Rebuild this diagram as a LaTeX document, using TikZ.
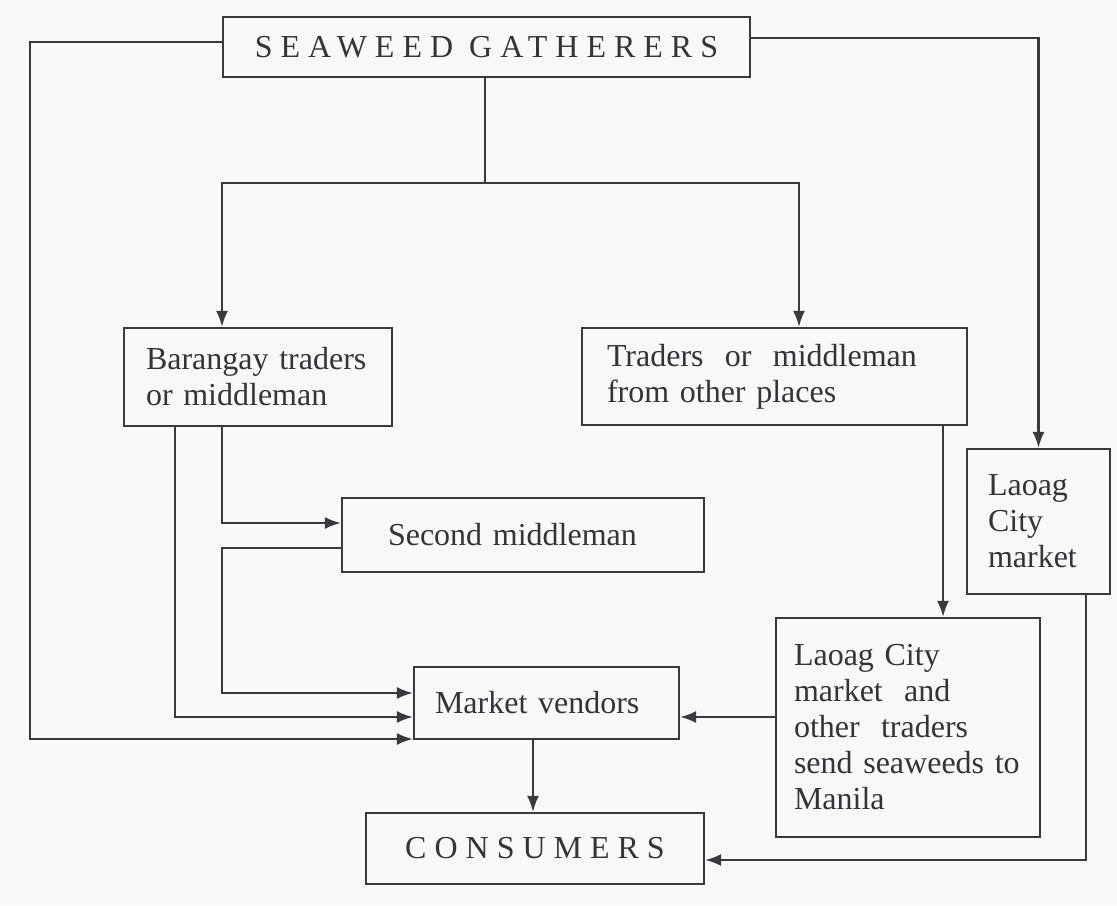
\documentclass[tikz,border=0pt]{standalone}
\usepackage{fontspec}
\setmainfont{Liberation Serif}
\newfontfamily\capsfont[LetterSpace=25]{Liberation Serif}
\usetikzlibrary{arrows.meta}
\definecolor{paper}{RGB}{250,247,250}
\definecolor{ink}{RGB}{58,58,62}

\begin{document}
\begin{tikzpicture}[x=0.5pt, y=-0.5pt,
    font=\fontsize{16}{18}\selectfont, text=ink!90!black,
    box/.style={draw=ink, line width=1.1pt, rectangle, inner ysep=0pt},
    flow/.style={-{Latex[length=8pt,width=6pt]}, draw=ink, line width=1.1pt}]
  \fill[paper] (0,0) rectangle (1117,905);
  \useasboundingbox (0,0) rectangle (1117,905);

  \node[box, minimum width=263.5pt, minimum height=30pt] (gath) at (486.5,47) {\capsfont SEAWEED GATHERERS};
  \node[box, align=left, inner xsep=11pt, text width=112pt, minimum height=49pt] (bar) at (258,377) {Barangay traders\\or middleman};
  \node[box, align=left, inner xsep=12.5pt, text width=167.5pt, minimum height=48.5pt] (trad) at (774.5,376.5) {Traders\ \ or\ \ middleman\\from other places};
  \node[box, align=left, inner xsep=10.5pt, text width=50.5pt, minimum height=72.5pt] (lcm) at (1038.5,521.5) {Laoag\\City\\market};
  \node[box, align=left, inner xsep=23pt, text width=135pt, minimum height=37pt] (second) at (523,535) {Second middleman};
  \node[box, align=left, inner xsep=10.5pt, text width=111.5pt, minimum height=36pt] (vend) at (546.5,703) {Market vendors};
  \node[box, align=left, inner xsep=9pt, text width=114pt, minimum height=109.5pt] (manila) at (908,727.5) {Laoag City\\market\ \ and\\other\ \ traders\\send seaweeds to\\Manila};
  \node[box, minimum width=169pt, minimum height=35.5pt] (cons) at (535,848.5) {\capsfont CONSUMERS};

  \coordinate (lrail) at (30,42);
  \coordinate (rrail) at (1038.5,38);
  \coordinate (split) at (485,183);

  \draw[flow] (gath.west |- lrail) -- (lrail) |- (vend.west |- 0,739);
  \draw[flow] (gath.east |- rrail) -- (rrail) -- (lcm.north);
  \draw[ink, line width=1.1pt] (gath.south -| split) -- (split);
  \draw[flow] (split) -| (bar.north -| 222,0);
  \draw[flow] (split) -| (trad.north -| 799,0);

  \draw[flow] (bar.south -| 175,0) |- (vend.west |- 0,717);
  \draw[flow] (bar.south -| 222,0) |- (second.west |- 0,523);
  \draw[flow] (second.west |- 0,548) -- (222,548) |- (vend.west |- 0,693);

  \draw[flow] (trad.south -| 943,0) -- (manila.north -| 943,0);
  \draw[flow] (manila.west |- 0,717) -- (vend.east |- 0,717);
  \draw[flow] (vend.south -| 533,0) -- (cons.north -| 533,0);
  \draw[flow] (lcm.south -| 1086,0) |- (cons.east |- 0,860);
\end{tikzpicture}
\end{document}
